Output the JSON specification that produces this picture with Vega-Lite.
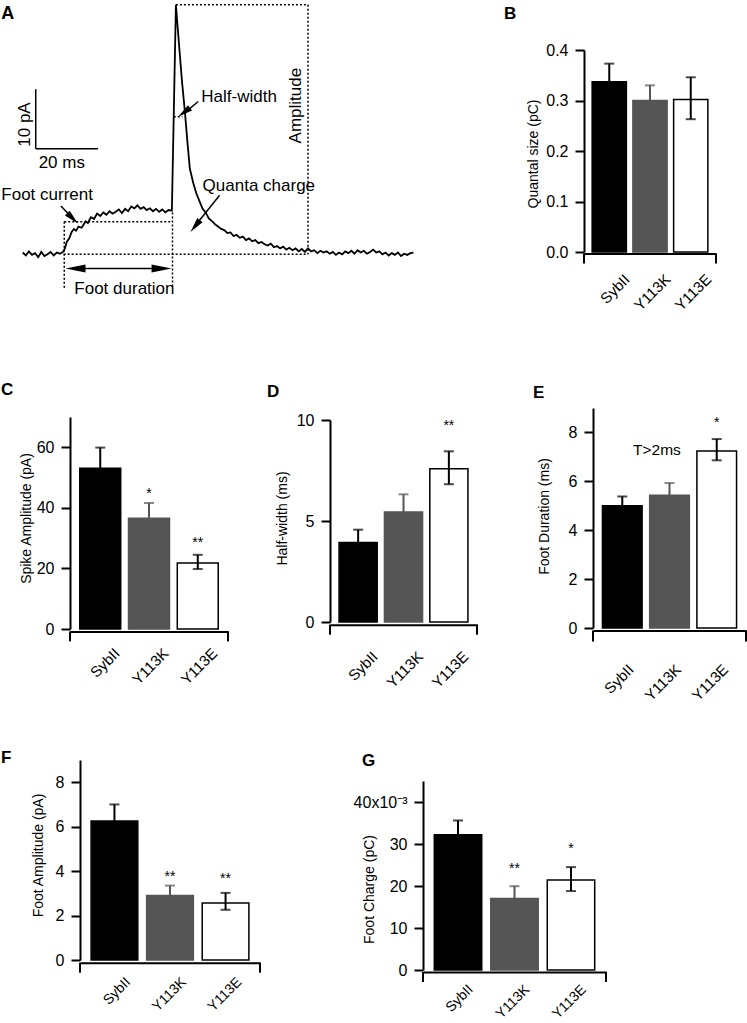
{
"$schema": "https://vega.github.io/schema/vega-lite/v6.json",
"padding": 0,
"background": "white",
"spacing": 0,
"config": {
  "font": "Liberation Sans",
  "view": {"stroke": null},
  "axis": {"domainColor": "#000", "domainWidth": 2, "tickColor": "#000", "tickWidth": 2, "tickSize": 9, "labelFont": "Liberation Sans", "labelFontSize": 16, "labelColor": "#000", "titleFont": "Liberation Sans", "titleFontSize": 14, "titleFontWeight": "normal", "titleColor": "#000", "grid": false, "labelPadding": 7},
  "axisX": {"labelFontSize": 15},
  "title": {"font": "Liberation Sans", "fontSize": 17, "fontWeight": "bold", "anchor": "start", "frame": "group", "color": "#000"},
  "text": {"font": "Liberation Sans", "color": "#000"}
},
"vconcat": [
{"spacing": 0, "hconcat": [
  {"width": 1, "height": 1, "data": {"values": []}, "mark": "point", "encoding": {}},
  {"spacing": 0, "vconcat": [
    {"width": 1, "height": 1, "data": {"values": []}, "mark": "point", "encoding": {}},
    {"width": 414, "height": 292,
     "encoding": {
       "x": {"field": "t", "type": "quantitative", "scale": {"domain": [-7, 126.5], "nice": false, "zero": false}, "axis": null},
       "y": {"field": "I", "type": "quantitative", "scale": {"domain": [-7, 42.5], "nice": false, "zero": false}, "axis": null}
     },
     "layer": [
      {"data": {"values": [{"t":0,"I":0.2},{"t":1,"I":-0.3},{"t":2,"I":0.4},{"t":3,"I":-0.2},{"t":4,"I":0.1},{"t":5,"I":-0.6},{"t":6,"I":0.3},{"t":7,"I":-0.4},{"t":8,"I":-0.1},{"t":9,"I":0.3},{"t":10,"I":-0.3},{"t":11,"I":0.2},{"t":12,"I":0.0},{"t":13,"I":0.3},{"t":13.6,"I":0.9},{"t":14.2,"I":2.0},{"t":15,"I":2.6},{"t":15.8,"I":3.7},{"t":16.5,"I":4.2},{"t":17.2,"I":3.9},{"t":18,"I":4.6},{"t":19,"I":4.4},{"t":19.6,"I":4.9},{"t":20.3,"I":5.5},{"t":21,"I":5.2},{"t":22,"I":6.2},{"t":23,"I":5.9},{"t":24,"I":6.8},{"t":25,"I":6.4},{"t":26,"I":7.0},{"t":27,"I":6.6},{"t":28,"I":7.2},{"t":29,"I":6.8},{"t":30,"I":7.1},{"t":31,"I":7.5},{"t":32,"I":6.9},{"t":33,"I":7.6},{"t":34,"I":7.2},{"t":35,"I":8.0},{"t":36,"I":7.7},{"t":37,"I":8.2},{"t":38,"I":7.6},{"t":39,"I":7.9},{"t":40,"I":7.4},{"t":41,"I":7.7},{"t":42,"I":7.2},{"t":43,"I":7.6},{"t":44,"I":7.1},{"t":45,"I":7.5},{"t":46,"I":7.0},{"t":47,"I":7.4},{"t":48.1,"I":7.3},{"t":49.4,"I":42.2},{"t":50.6,"I":34.2},{"t":51.4,"I":29.0},{"t":52.3,"I":24.1},{"t":53.1,"I":19.0},{"t":53.9,"I":14.4},{"t":55,"I":12.0},{"t":56,"I":10.2},{"t":57.1,"I":8.8},{"t":58,"I":7.6},{"t":59,"I":7.0},{"t":60,"I":6.0},{"t":61.3,"I":5.4},{"t":62,"I":5.0},{"t":63,"I":4.6},{"t":64,"I":4.2},{"t":65,"I":4.0},{"t":66,"I":3.5},{"t":67,"I":3.6},{"t":68,"I":3.0},{"t":69,"I":3.2},{"t":70,"I":2.7},{"t":71,"I":2.9},{"t":72,"I":2.3},{"t":73,"I":2.6},{"t":74,"I":2.1},{"t":75,"I":2.3},{"t":76,"I":1.8},{"t":77,"I":2.0},{"t":78,"I":1.6},{"t":79,"I":1.4},{"t":80,"I":1.7},{"t":81,"I":1.1},{"t":82,"I":1.3},{"t":83,"I":0.9},{"t":84,"I":1.2},{"t":85,"I":0.7},{"t":86,"I":1.0},{"t":87,"I":0.6},{"t":88,"I":0.9},{"t":89,"I":0.4},{"t":90,"I":0.8},{"t":91,"I":0.3},{"t":92,"I":0.9},{"t":93,"I":0.4},{"t":94,"I":0.6},{"t":95,"I":0.1},{"t":96,"I":0.5},{"t":97,"I":0.2},{"t":98,"I":0.4},{"t":99,"I":0.0},{"t":100,"I":0.3},{"t":101,"I":-0.2},{"t":102,"I":0.2},{"t":103,"I":-0.1},{"t":104,"I":0.4},{"t":105,"I":0.1},{"t":106,"I":0.5},{"t":107,"I":0.0},{"t":108,"I":0.6},{"t":109,"I":0.2},{"t":110,"I":0.5},{"t":111,"I":0.0},{"t":112,"I":0.3},{"t":113,"I":0.7},{"t":114,"I":0.2},{"t":115,"I":0.4},{"t":116,"I":-0.1},{"t":117,"I":0.2},{"t":118,"I":-0.3},{"t":119,"I":0.1},{"t":120,"I":-0.2},{"t":121,"I":0.2},{"t":122,"I":-0.4},{"t":123,"I":0.0},{"t":124,"I":-0.2},{"t":125,"I":0.1},{"t":126,"I":0.2}]},
       "mark": {"type": "line", "color": "#000", "strokeWidth": 1.8}},
      {"data": {"values": [{"t":49.4,"I":42.2,"t2":92.0,"I2":42.2},{"t":92.0,"I":42.2,"t2":92.0,"I2":-0.1},{"t":13.2,"I":-0.1,"t2":92.0,"I2":-0.1},{"t":13.4,"I":5.4,"t2":13.4,"I2":-5.9},{"t":13.4,"I":5.4,"t2":48.3,"I2":5.4},{"t":48.3,"I":7.0,"t2":48.3,"I2":-5.9},{"t":48.7,"I":23.2,"t2":51.5,"I2":23.2}]},
       "mark": {"type": "rule", "color": "#000", "strokeWidth": 1.5, "strokeDash": [2, 2]},
       "encoding": {"x2": {"field": "t2"}, "y2": {"field": "I2"}}},
      {"data": {"values": [{"t":4.2,"I":27.9,"t2":4.2,"I2":17.8},{"t":4.2,"I":17.8,"t2":24.3,"I2":17.8},{"t":16,"I":-2.5,"t2":46,"I2":-2.5},{"t":12.3,"I":8.1,"t2":16.5,"I2":5.8},{"t":56.6,"I":25.8,"t2":52,"I2":23.8},{"t":63.5,"I":9.9,"t2":56,"I2":5.0}]},
       "mark": {"type": "rule", "color": "#000", "strokeWidth": 1.5},
       "encoding": {"x2": {"field": "t2"}, "y2": {"field": "I2"}}},
      {"data": {"values": [{"t":13.8,"I":-2.5,"dir":180},{"t":48.0,"I":-2.5,"dir":0}]},
       "mark": {"type": "point", "shape": "M0,0L-2,-0.4L-2,0.4Z", "size": 400, "filled": true, "color": "#000", "opacity": 1},
       "encoding": {"angle": {"field": "dir", "type": "quantitative", "scale": null}}},
      {"data": {"values": [{"t":17.8,"I":5.1,"dir":45},{"t":50.1,"I":23.2,"dir":143},{"t":54.1,"I":3.7,"dir":129}]},
       "mark": {"type": "point", "shape": "M0,0L-2,-0.45L-2,0.45Z", "size": 225, "filled": true, "color": "#000", "opacity": 1},
       "encoding": {"angle": {"field": "dir", "type": "quantitative", "scale": null}}},
      {"data": {"values": [{"t":-6.9,"I":10.0,"txt":"Foot current"},{"t":57.6,"I":26.6,"txt":"Half-width"},{"t":58.0,"I":11.4,"txt":"Quanta charge"}]},
       "mark": {"type": "text", "fontSize": 17, "align": "left", "baseline": "middle"},
       "encoding": {"text": {"field": "txt"}}},
      {"data": {"values": [{"t":32.8,"I":-5.9,"txt":"Foot duration"},{"t":12.6,"I":15.3,"txt":"20 ms"}]},
       "mark": {"type": "text", "fontSize": 17, "align": "center", "baseline": "middle"},
       "encoding": {"text": {"field": "txt"}}},
      {"data": {"values": [{"t":0.6,"I":21.9,"txt":"10 pA"},{"t":88.1,"I":25.1,"txt":"Amplitude"}]},
       "mark": {"type": "text", "fontSize": 17, "align": "center", "baseline": "middle", "angle": 270},
       "encoding": {"text": {"field": "txt"}}},
      {"data": {"values": [{"t":-4.8,"I":40.6,"txt":"A"}]},
       "mark": {"type": "text", "fontSize": 18, "fontWeight": "bold", "align": "center", "baseline": "middle"},
       "encoding": {"text": {"field": "txt"}}}
     ]}
  ]},
  {"width": 86, "height": 1, "data": {"values": []}, "mark": "point", "encoding": {}},
  {"spacing": 0, "vconcat": [
    {"width": 1, "height": 5, "data": {"values": []}, "mark": "point", "encoding": {}},
    {"title": {"text": "B", "dx": -80, "offset": 19},
     "width": 132, "height": 202,
     "data": {"values": [{"g":"SybII","m":0.337,"lo":0.337,"hi":0.373},{"g":"Y113K","m":0.300,"lo":0.300,"hi":0.330},{"g":"Y113E","m":0.302,"lo":0.263,"hi":0.346}]},
     "encoding": {"x": {"field": "g", "type": "nominal", "sort": ["SybII","Y113K","Y113E"], "scale": {"paddingInner": 0.16, "paddingOuter": 0.2}, "axis": {"title": null, "ticks": false, "labelAngle": -45, "labelAlign": "right", "labelBaseline": "top", "labelPadding": 18, "labelOffset": 13, "offset": 1.5}}},
     "layer": [
      {"mark": {"type": "bar", "strokeWidth": 1.5}, "encoding": {
        "y": {"field": "m", "type": "quantitative", "scale": {"domain": [0, 0.4], "nice": false}, "axis": {"title": "Quantal size (pC)", "values": [0, 0.1, 0.2, 0.3, 0.4], "format": ".1f", "titleX": -51, "titleY": 103.5, "titleBaseline": "middle"}},
        "fill": {"field": "g", "type": "nominal", "scale": {"domain": ["SybII","Y113K","Y113E"], "range": ["#000000","#555555","#ffffff"]}, "legend": null},
        "stroke": {"field": "g", "type": "nominal", "scale": {"domain": ["SybII","Y113K","Y113E"], "range": ["#000000","#555555","#000000"]}, "legend": null}}},
      {"mark": {"type": "rule", "strokeWidth": 2}, "encoding": {"y": {"field": "lo", "type": "quantitative"}, "y2": {"field": "hi"}, "stroke": {"field": "g", "type": "nominal", "legend": null}}},
      {"mark": {"type": "tick", "thickness": 2, "size": 10}, "encoding": {"y": {"field": "hi", "type": "quantitative"}, "color": {"field": "g", "type": "nominal", "scale": {"domain": ["SybII","Y113K","Y113E"], "range": ["#000000","#555555","#000000"]}, "legend": null}}},
      {"transform": [{"filter": "datum.lo < datum.m"}], "mark": {"type": "tick", "thickness": 2, "size": 10}, "encoding": {"y": {"field": "lo", "type": "quantitative"}, "color": {"field": "g", "type": "nominal", "legend": null}}},
      {"data": {"values": [{}]}, "mark": {"type": "rule", "color": "#000", "strokeWidth": 2, "yOffset": 1.5, "y2Offset": 11.5}, "encoding": {"x": {"datum": "SybII", "bandPosition": -0.2381}, "y": {"datum": 0}, "y2": {"datum": 0}}},
      {"data": {"values": [{}]}, "mark": {"type": "rule", "color": "#000", "strokeWidth": 2, "yOffset": 1.5, "y2Offset": 11.5}, "encoding": {"x": {"datum": "Y113E", "bandPosition": 1.2381}, "y": {"datum": 0}, "y2": {"datum": 0}}}
     ]}
  ]}
]},
{"spacing": 0, "hconcat": [
  {"width": 1, "height": 1, "data": {"values": []}, "mark": "point", "encoding": {}},
  {"spacing": 0, "vconcat": [
    {"width": 1, "height": 67, "data": {"values": []}, "mark": "point", "encoding": {}},
    {"title": {"text": "C", "dx": -69, "offset": 17.6},
     "width": 158, "height": 212,
     "data": {"values": [{"g":"SybII","m":53.1,"lo":53.1,"hi":59.9},{"g":"Y113K","m":36.6,"lo":36.6,"hi":41.6},{"g":"Y113E","m":21.8,"lo":19.8,"hi":24.5}]},
     "encoding": {"x": {"field": "g", "type": "nominal", "sort": ["SybII","Y113K","Y113E"], "scale": {"paddingInner": 0.16, "paddingOuter": 0.2}, "axis": {"title": null, "ticks": false, "labelAngle": -45, "labelAlign": "right", "labelBaseline": "top", "labelPadding": 14, "labelOffset": 12, "offset": 2.4}}},
     "layer": [
      {"mark": {"type": "bar", "strokeWidth": 1.5}, "encoding": {
        "y": {"field": "m", "type": "quantitative", "scale": {"domain": [0, 70], "nice": false}, "axis": {"title": "Spike Amplitude (pA)", "values": [0, 20, 40, 60], "titleX": -44, "titleY": 101, "titleBaseline": "middle"}},
        "fill": {"field": "g", "type": "nominal", "scale": {"domain": ["SybII","Y113K","Y113E"], "range": ["#000000","#555555","#ffffff"]}, "legend": null},
        "stroke": {"field": "g", "type": "nominal", "scale": {"domain": ["SybII","Y113K","Y113E"], "range": ["#000000","#555555","#000000"]}, "legend": null}}},
      {"mark": {"type": "rule", "strokeWidth": 2}, "encoding": {"y": {"field": "lo", "type": "quantitative"}, "y2": {"field": "hi"}, "stroke": {"field": "g", "type": "nominal", "legend": null}}},
      {"mark": {"type": "tick", "thickness": 2, "size": 10}, "encoding": {"y": {"field": "hi", "type": "quantitative"}, "color": {"field": "g", "type": "nominal", "scale": {"domain": ["SybII","Y113K","Y113E"], "range": ["#000000","#555555","#000000"]}, "legend": null}}},
      {"transform": [{"filter": "datum.lo < datum.m"}], "mark": {"type": "tick", "thickness": 2, "size": 10}, "encoding": {"y": {"field": "lo", "type": "quantitative"}, "color": {"field": "g", "type": "nominal", "legend": null}}},
      {"data": {"values": [{"g":"Y113K","s":"*","y":46.0},{"g":"Y113E","s":"**","y":29.7}]}, "mark": {"type": "text", "fontSize": 14, "baseline": "alphabetic", "dy": 8}, "encoding": {"y": {"field": "y", "type": "quantitative"}, "text": {"field": "s"}}},
      {"data": {"values": [{}]}, "mark": {"type": "rule", "color": "#000", "strokeWidth": 2, "yOffset": 2.4, "y2Offset": 12.4}, "encoding": {"x": {"datum": "SybII", "bandPosition": -0.2381}, "y": {"datum": 0}, "y2": {"datum": 0}}},
      {"data": {"values": [{}]}, "mark": {"type": "rule", "color": "#000", "strokeWidth": 2, "yOffset": 2.4, "y2Offset": 12.4}, "encoding": {"x": {"datum": "Y113E", "bandPosition": 1.2381}, "y": {"datum": 0}, "y2": {"datum": 0}}}
     ]}
  ]},
  {"width": 37, "height": 1, "data": {"values": []}, "mark": "point", "encoding": {}},
  {"spacing": 0, "vconcat": [
    {"width": 1, "height": 68, "data": {"values": []}, "mark": "point", "encoding": {}},
    {"title": {"text": "D", "dx": -63, "offset": 11.5},
     "width": 147, "height": 202,
     "data": {"values": [{"g":"SybII","m":3.93,"lo":3.93,"hi":4.57},{"g":"Y113K","m":5.45,"lo":5.45,"hi":6.32},{"g":"Y113E","m":7.59,"lo":6.82,"hi":8.45}]},
     "encoding": {"x": {"field": "g", "type": "nominal", "sort": ["SybII","Y113K","Y113E"], "scale": {"paddingInner": 0.16, "paddingOuter": 0.2}, "axis": {"title": null, "ticks": false, "labelAngle": -45, "labelAlign": "right", "labelBaseline": "top", "labelPadding": 24, "labelOffset": 12, "offset": 2.7}}},
     "layer": [
      {"mark": {"type": "bar", "strokeWidth": 1.5}, "encoding": {
        "y": {"field": "m", "type": "quantitative", "scale": {"domain": [0, 10], "nice": false}, "axis": {"title": "Half-width (ms)", "values": [0, 5, 10], "titleX": -48, "titleY": 98, "titleBaseline": "middle"}},
        "fill": {"field": "g", "type": "nominal", "scale": {"domain": ["SybII","Y113K","Y113E"], "range": ["#000000","#444444","#ffffff"]}, "legend": null},
        "stroke": {"field": "g", "type": "nominal", "scale": {"domain": ["SybII","Y113K","Y113E"], "range": ["#000000","#444444","#000000"]}, "legend": null}}},
      {"mark": {"type": "rule", "strokeWidth": 2}, "encoding": {"y": {"field": "lo", "type": "quantitative"}, "y2": {"field": "hi"}, "stroke": {"field": "g", "type": "nominal", "legend": null}}},
      {"mark": {"type": "tick", "thickness": 2, "size": 10}, "encoding": {"y": {"field": "hi", "type": "quantitative"}, "color": {"field": "g", "type": "nominal", "scale": {"domain": ["SybII","Y113K","Y113E"], "range": ["#000000","#444444","#000000"]}, "legend": null}}},
      {"transform": [{"filter": "datum.lo < datum.m"}], "mark": {"type": "tick", "thickness": 2, "size": 10}, "encoding": {"y": {"field": "lo", "type": "quantitative"}, "color": {"field": "g", "type": "nominal", "legend": null}}},
      {"data": {"values": [{"g":"Y113E","s":"**","y":9.9}]}, "mark": {"type": "text", "fontSize": 14, "baseline": "alphabetic", "dy": 8}, "encoding": {"y": {"field": "y", "type": "quantitative"}, "text": {"field": "s"}}},
      {"data": {"values": [{}]}, "mark": {"type": "rule", "color": "#000", "strokeWidth": 2, "yOffset": 2.7, "y2Offset": 12.7}, "encoding": {"x": {"datum": "SybII", "bandPosition": -0.2381}, "y": {"datum": 0}, "y2": {"datum": 0}}},
      {"data": {"values": [{}]}, "mark": {"type": "rule", "color": "#000", "strokeWidth": 2, "yOffset": 2.7, "y2Offset": 12.7}, "encoding": {"x": {"datum": "Y113E", "bandPosition": 1.2381}, "y": {"datum": 0}, "y2": {"datum": 0}}}
     ]}
  ]},
  {"width": 54, "height": 1, "data": {"values": []}, "mark": "point", "encoding": {}},
  {"spacing": 0, "vconcat": [
    {"width": 1, "height": 69, "data": {"values": []}, "mark": "point", "encoding": {}},
    {"title": {"text": "E", "dx": -60, "offset": 6.3},
     "width": 153, "height": 220,
     "data": {"values": [{"g":"SybII","m":5.0,"lo":5.0,"hi":5.38},{"g":"Y113K","m":5.43,"lo":5.43,"hi":5.93},{"g":"Y113E","m":7.24,"lo":6.86,"hi":7.73}]},
     "encoding": {"x": {"field": "g", "type": "nominal", "sort": ["SybII","Y113K","Y113E"], "scale": {"paddingInner": 0.16, "paddingOuter": 0.2}, "axis": {"title": null, "ticks": false, "labelAngle": -45, "labelAlign": "right", "labelBaseline": "top", "labelPadding": 31, "labelOffset": 4, "offset": 2.6}}},
     "layer": [
      {"mark": {"type": "bar", "strokeWidth": 1.5}, "encoding": {
        "y": {"field": "m", "type": "quantitative", "scale": {"domain": [0, 9], "nice": false}, "axis": {"title": "Foot Duration (ms)", "values": [0, 2, 4, 6, 8], "titleX": -49, "titleY": 108, "titleBaseline": "middle"}},
        "fill": {"field": "g", "type": "nominal", "scale": {"domain": ["SybII","Y113K","Y113E"], "range": ["#000000","#555555","#ffffff"]}, "legend": null},
        "stroke": {"field": "g", "type": "nominal", "scale": {"domain": ["SybII","Y113K","Y113E"], "range": ["#000000","#555555","#000000"]}, "legend": null}}},
      {"mark": {"type": "rule", "strokeWidth": 2}, "encoding": {"y": {"field": "lo", "type": "quantitative"}, "y2": {"field": "hi"}, "stroke": {"field": "g", "type": "nominal", "legend": null}}},
      {"mark": {"type": "tick", "thickness": 2, "size": 10}, "encoding": {"y": {"field": "hi", "type": "quantitative"}, "color": {"field": "g", "type": "nominal", "scale": {"domain": ["SybII","Y113K","Y113E"], "range": ["#000000","#555555","#000000"]}, "legend": null}}},
      {"transform": [{"filter": "datum.lo < datum.m"}], "mark": {"type": "tick", "thickness": 2, "size": 10}, "encoding": {"y": {"field": "lo", "type": "quantitative"}, "color": {"field": "g", "type": "nominal", "legend": null}}},
      {"data": {"values": [{"g":"Y113E","s":"*","y":8.57}]}, "mark": {"type": "text", "fontSize": 14, "baseline": "alphabetic", "dy": 8}, "encoding": {"y": {"field": "y", "type": "quantitative"}, "text": {"field": "s"}}},
      {"data": {"values": [{"g":"Y113K","lab":"T>2ms","y":7.28}]}, "mark": {"type": "text", "fontSize": 15.5, "baseline": "middle", "dx": -12.6}, "encoding": {"y": {"field": "y", "type": "quantitative"}, "text": {"field": "lab"}}},
      {"data": {"values": [{}]}, "mark": {"type": "rule", "color": "#000", "strokeWidth": 2, "yOffset": 2.6, "y2Offset": 13.6}, "encoding": {"x": {"datum": "SybII", "bandPosition": -0.2381}, "y": {"datum": 0}, "y2": {"datum": 0}}},
      {"data": {"values": [{}]}, "mark": {"type": "rule", "color": "#000", "strokeWidth": 2, "yOffset": 2.6, "y2Offset": 13.6}, "encoding": {"x": {"datum": "Y113E", "bandPosition": 1.2381}, "y": {"datum": 0}, "y2": {"datum": 0}}}
     ]}
  ]}
]},
{"spacing": 0, "hconcat": [
  {"width": 1, "height": 1, "data": {"values": []}, "mark": "point", "encoding": {}},
  {"spacing": 0, "vconcat": [
    {"width": 1, "height": 45, "data": {"values": []}, "mark": "point", "encoding": {}},
    {"title": {"text": "F", "dx": -79, "offset": -7},
     "width": 180, "height": 200,
     "data": {"values": [{"g":"SybII","m":6.26,"lo":6.26,"hi":7.0},{"g":"Y113K","m":2.9,"lo":2.9,"hi":3.35},{"g":"Y113E","m":2.57,"lo":2.26,"hi":3.02}]},
     "encoding": {"x": {"field": "g", "type": "nominal", "sort": ["SybII","Y113K","Y113E"], "scale": {"paddingInner": 0.16, "paddingOuter": 0.2}, "axis": {"title": null, "ticks": false, "labelAngle": -45, "labelAlign": "right", "labelBaseline": "top", "labelFontSize": 14, "labelPadding": 12, "labelOffset": 9, "offset": 2.7}}},
     "layer": [
      {"mark": {"type": "bar", "strokeWidth": 1.5}, "encoding": {
        "y": {"field": "m", "type": "quantitative", "scale": {"domain": [0, 9], "nice": false}, "axis": {"title": "Foot Amplitude (pA)", "values": [0, 2, 4, 6, 8], "titleX": -42, "titleY": 95, "titleBaseline": "middle"}},
        "fill": {"field": "g", "type": "nominal", "scale": {"domain": ["SybII","Y113K","Y113E"], "range": ["#000000","#555555","#ffffff"]}, "legend": null},
        "stroke": {"field": "g", "type": "nominal", "scale": {"domain": ["SybII","Y113K","Y113E"], "range": ["#000000","#555555","#000000"]}, "legend": null}}},
      {"mark": {"type": "rule", "strokeWidth": 2}, "encoding": {"y": {"field": "lo", "type": "quantitative"}, "y2": {"field": "hi"}, "stroke": {"field": "g", "type": "nominal", "legend": null}}},
      {"mark": {"type": "tick", "thickness": 2, "size": 10}, "encoding": {"y": {"field": "hi", "type": "quantitative"}, "color": {"field": "g", "type": "nominal", "scale": {"domain": ["SybII","Y113K","Y113E"], "range": ["#000000","#555555","#000000"]}, "legend": null}}},
      {"transform": [{"filter": "datum.lo < datum.m"}], "mark": {"type": "tick", "thickness": 2, "size": 10}, "encoding": {"y": {"field": "lo", "type": "quantitative"}, "color": {"field": "g", "type": "nominal", "legend": null}}},
      {"data": {"values": [{"g":"Y113K","s":"**","y":3.9},{"g":"Y113E","s":"**","y":3.84}]}, "mark": {"type": "text", "fontSize": 14, "baseline": "alphabetic", "dy": 8}, "encoding": {"y": {"field": "y", "type": "quantitative"}, "text": {"field": "s"}}},
      {"data": {"values": [{}]}, "mark": {"type": "rule", "color": "#000", "strokeWidth": 2, "yOffset": 2.7, "y2Offset": 12.7}, "encoding": {"x": {"datum": "SybII", "bandPosition": -0.2381}, "y": {"datum": 0}, "y2": {"datum": 0}}},
      {"data": {"values": [{}]}, "mark": {"type": "rule", "color": "#000", "strokeWidth": 2, "yOffset": 2.7, "y2Offset": 12.7}, "encoding": {"x": {"datum": "Y113E", "bandPosition": 1.2381}, "y": {"datum": 0}, "y2": {"datum": 0}}}
     ]}
  ]},
  {"width": 91, "height": 1, "data": {"values": []}, "mark": "point", "encoding": {}},
  {"spacing": 0, "vconcat": [
    {"width": 1, "height": 47, "data": {"values": []}, "mark": "point", "encoding": {}},
    {"title": {"text": "G", "dx": -61, "offset": 11.3},
     "width": 183, "height": 189,
     "data": {"values": [{"g":"SybII","m":32.2,"lo":32.2,"hi":35.6},{"g":"Y113K","m":17.0,"lo":17.0,"hi":19.95},{"g":"Y113E","m":21.4,"lo":18.8,"hi":24.5}]},
     "encoding": {"x": {"field": "g", "type": "nominal", "sort": ["SybII","Y113K","Y113E"], "scale": {"paddingInner": 0.16, "paddingOuter": 0.2}, "axis": {"title": null, "ticks": false, "labelAngle": -45, "labelAlign": "right", "labelBaseline": "top", "labelFontSize": 14, "labelPadding": 10, "labelOffset": 8, "offset": 2}}},
     "layer": [
      {"mark": {"type": "bar", "strokeWidth": 1.5}, "encoding": {
        "y": {"field": "m", "type": "quantitative", "scale": {"domain": [0, 45], "nice": false}, "axis": {"title": "Foot Charge (pC)", "values": [0, 10, 20, 30, 40], "labelExpr": "datum.value == 40 ? '40x10\u207b\u00b3' : datum.label", "titleX": -54, "titleY": 108, "titleBaseline": "middle"}},
        "fill": {"field": "g", "type": "nominal", "scale": {"domain": ["SybII","Y113K","Y113E"], "range": ["#000000","#555555","#ffffff"]}, "legend": null},
        "stroke": {"field": "g", "type": "nominal", "scale": {"domain": ["SybII","Y113K","Y113E"], "range": ["#000000","#555555","#000000"]}, "legend": null}}},
      {"mark": {"type": "rule", "strokeWidth": 2}, "encoding": {"y": {"field": "lo", "type": "quantitative"}, "y2": {"field": "hi"}, "stroke": {"field": "g", "type": "nominal", "legend": null}}},
      {"mark": {"type": "tick", "thickness": 2, "size": 10}, "encoding": {"y": {"field": "hi", "type": "quantitative"}, "color": {"field": "g", "type": "nominal", "scale": {"domain": ["SybII","Y113K","Y113E"], "range": ["#000000","#555555","#000000"]}, "legend": null}}},
      {"transform": [{"filter": "datum.lo < datum.m"}], "mark": {"type": "tick", "thickness": 2, "size": 10}, "encoding": {"y": {"field": "lo", "type": "quantitative"}, "color": {"field": "g", "type": "nominal", "legend": null}}},
      {"data": {"values": [{"g":"Y113K","s":"**","y":25.1},{"g":"Y113E","s":"*","y":29.8}]}, "mark": {"type": "text", "fontSize": 14, "baseline": "alphabetic", "dy": 8}, "encoding": {"y": {"field": "y", "type": "quantitative"}, "text": {"field": "s"}}},
      {"data": {"values": [{}]}, "mark": {"type": "rule", "color": "#000", "strokeWidth": 2, "yOffset": 2, "y2Offset": 12}, "encoding": {"x": {"datum": "SybII", "bandPosition": -0.2381}, "y": {"datum": 0}, "y2": {"datum": 0}}},
      {"data": {"values": [{}]}, "mark": {"type": "rule", "color": "#000", "strokeWidth": 2, "yOffset": 2, "y2Offset": 12}, "encoding": {"x": {"datum": "Y113E", "bandPosition": 1.2381}, "y": {"datum": 0}, "y2": {"datum": 0}}}
     ]}
  ]}
]}
]
}
